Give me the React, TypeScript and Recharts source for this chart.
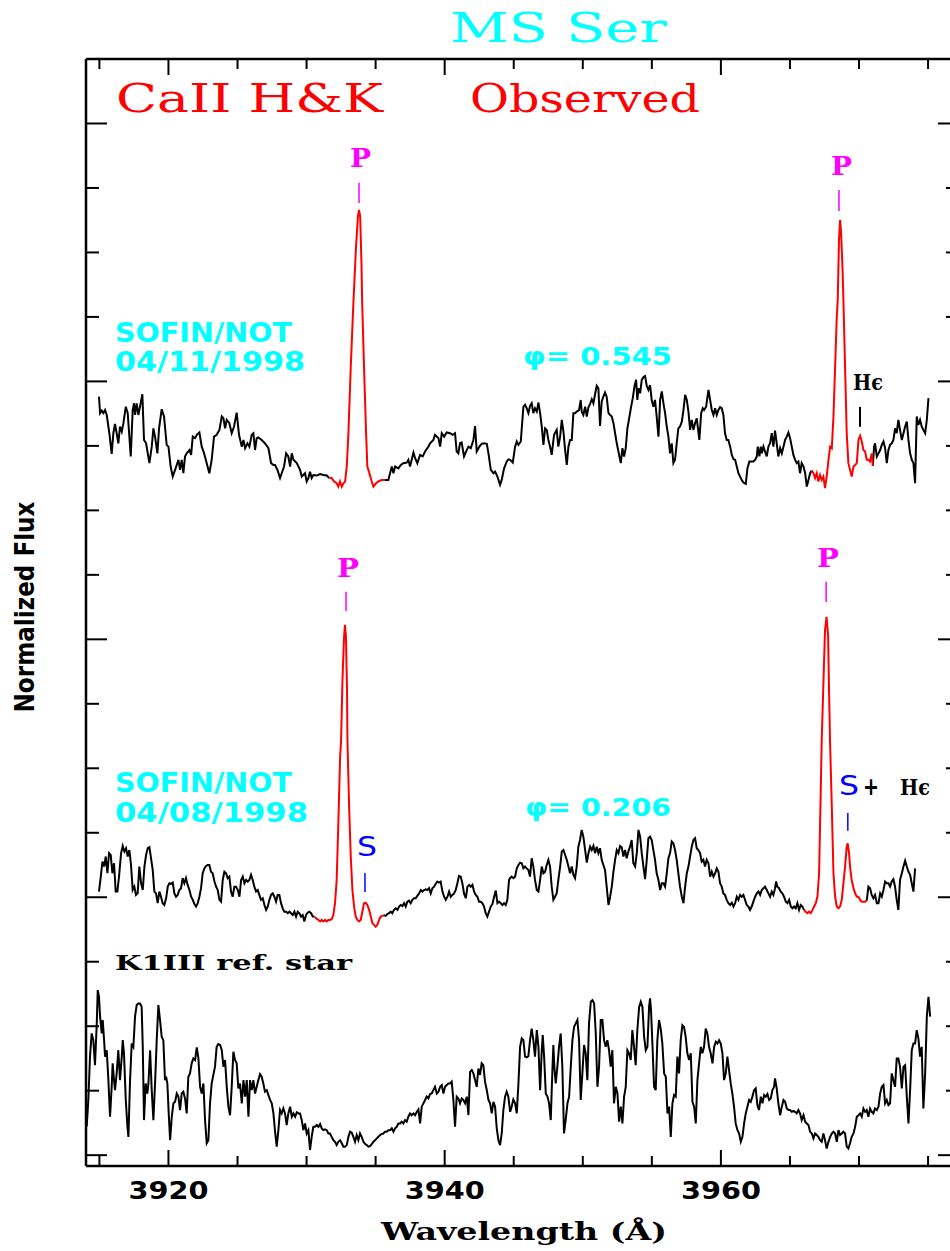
import { LineChart, Line, XAxis, YAxis, ReferenceLine } from 'recharts'

// wavelength (Å) vs normalized flux (offset per spectrum)
const novBlue1: [number, number][] = [
  [3914.97,2.941],[3915.05,2.877],[3915.17,2.887],[3915.29,2.877],[3915.41,2.889],[3915.53,2.870],[3915.72,2.799],[3915.89,2.719],[3916.01,2.799],[3916.13,2.835],[3916.25,2.799],[3916.37,2.760],[3916.49,2.825],[3916.62,2.805],[3916.74,2.838],[3916.91,2.902],[3917.05,2.877],[3917.27,2.709],[3917.41,2.889],[3917.51,2.915],[3917.58,2.870],[3917.70,2.915],[3917.82,2.870],[3917.94,2.902],[3918.11,2.950],[3918.23,2.773],[3918.38,2.760],[3918.62,2.683],[3918.79,2.747],[3918.91,2.818],[3919.03,2.786],[3919.20,2.721],[3919.32,2.818],[3919.51,2.892],[3919.68,2.864],[3919.87,2.754],[3920.00,2.747],[3920.16,2.670],[3920.31,2.631],[3920.48,2.657],[3920.60,2.676],[3920.72,2.696],[3920.84,2.657],[3920.96,2.696],[3921.08,2.644],[3921.20,2.709],[3921.32,2.721],[3921.52,2.734],[3921.64,2.715],[3921.76,2.786],[3921.93,2.780],[3922.05,2.793],[3922.24,2.802],[3922.41,2.747],[3922.58,2.721],[3922.77,2.683],[3922.96,2.644],[3923.13,2.696],[3923.30,2.786],[3923.49,2.793],[3923.69,2.812],[3923.86,2.864],[3923.98,2.857],[3924.10,2.818],[3924.22,2.851],[3924.41,2.838],[3924.58,2.799],[3924.75,2.825],[3924.94,2.879],[3925.11,2.793],[3925.31,2.747],[3925.43,2.773],[3925.55,2.741],[3925.72,2.760],[3925.86,2.747],[3926.03,2.793],[3926.15,2.799],[3926.27,2.734],[3926.39,2.780],[3926.51,2.783],[3926.75,2.773],[3926.99,2.760],[3927.24,2.741],[3927.43,2.683],[3927.60,2.676],[3927.72,2.676],[3927.89,2.657],[3928.08,2.625],[3928.20,2.644],[3928.37,2.670],[3928.52,2.721],[3928.68,2.709],[3928.81,2.670],[3928.93,2.721],[3929.05,2.696],[3929.29,2.683],[3929.41,2.670],[3929.53,2.657],[3929.65,2.631],[3929.89,2.644],[3930.01,2.612],[3930.13,2.625],[3930.25,2.650],[3930.37,2.625],[3930.49,2.637],[3930.74,2.635],[3930.98,2.641],[3931.22,2.637],[3931.46,2.635],[3931.65,2.625],
]
const novK: [number, number][] = [
  [3931.65,2.625],[3931.82,2.625],[3931.99,2.612],[3932.18,2.605],[3932.30,2.592],[3932.42,2.612],[3932.55,2.592],[3932.67,2.605],[3932.79,2.612],[3932.91,2.670],[3933.03,2.799],[3933.20,3.057],[3933.40,3.316],[3933.58,3.52],[3933.72,3.64],[3933.80,3.665],[3933.88,3.64],[3933.98,3.45],[3934.02,3.316],[3934.16,3.057],[3934.31,2.799],[3934.40,2.670],[3934.55,2.644],[3934.72,2.612],[3934.84,2.592],[3935.03,2.605],[3935.20,2.612],[3935.44,2.618],[3935.68,2.618],
]
const novBlue2: [number, number][] = [
  [3935.68,2.618],[3935.92,2.618],[3936.17,2.670],[3936.29,2.644],[3936.41,2.670],[3936.65,2.663],[3936.82,2.676],[3937.01,2.683],[3937.25,2.685],[3937.37,2.696],[3937.49,2.670],[3937.74,2.724],[3937.86,2.702],[3938.02,2.683],[3938.22,2.715],[3938.41,2.709],[3938.58,2.728],[3938.82,2.747],[3938.94,2.760],[3939.18,2.773],[3939.30,2.793],[3939.55,2.780],[3939.67,2.747],[3939.79,2.799],[3939.96,2.786],[3940.15,2.802],[3940.39,2.799],[3940.58,2.793],[3940.75,2.799],[3940.87,2.728],[3940.99,2.721],[3941.11,2.760],[3941.23,2.763],[3941.40,2.709],[3941.55,2.728],[3941.72,2.747],[3941.89,2.741],[3942.08,2.773],[3942.20,2.827],[3942.32,2.728],[3942.51,2.747],[3942.68,2.758],[3942.85,2.760],[3943.05,2.758],[3943.17,2.721],[3943.34,2.657],[3943.53,2.644],[3943.65,2.650],[3943.82,2.631],[3944.01,2.599],[3944.13,2.618],[3944.30,2.663],[3944.49,2.689],[3944.61,2.698],[3944.74,2.696],
  [3944.93,2.685],[3945.10,2.747],[3945.22,2.767],[3945.34,2.754],[3945.51,2.767],[3945.70,2.902],[3945.82,2.909],[3945.94,2.896],[3946.06,2.877],[3946.18,2.905],[3946.30,2.915],[3946.42,2.877],[3946.54,2.896],[3946.67,2.883],[3946.79,2.918],[3946.91,2.877],[3947.03,2.825],[3947.15,2.754],[3947.27,2.818],[3947.39,2.812],[3947.51,2.773],[3947.63,2.747],[3947.75,2.715],[3947.92,2.793],[3948.11,2.812],[3948.23,2.747],[3948.36,2.786],[3948.48,2.851],[3948.60,2.805],[3948.72,2.734],[3948.84,2.676],[3948.96,2.747],[3949.08,2.773],[3949.20,2.773],[3949.32,2.877],[3949.44,2.877],[3949.56,2.883],[3949.73,2.889],[3949.85,2.928],[3949.92,2.883],[3950.04,2.870],[3950.17,2.902],[3950.29,2.864],[3950.41,2.900],[3950.53,2.913],[3950.65,2.931],[3950.77,2.915],[3950.89,2.951],[3951.01,2.983],[3951.13,2.973],[3951.25,2.827],[3951.37,2.922],[3951.49,2.941],[3951.61,2.957],[3951.73,2.941],[3951.86,2.877],[3951.98,2.870],[3952.10,2.864],[3952.22,2.838],[3952.34,2.799],[3952.46,2.760],[3952.63,2.715],[3952.75,2.683],[3952.87,2.741],[3952.99,2.709],[3953.11,2.741],[3953.23,2.818],[3953.38,2.864],[3953.50,2.902],[3953.62,2.935],[3953.74,2.980],[3953.86,3.006],[3953.95,2.928],[3954.03,2.973],[3954.15,2.954],[3954.27,3.006],[3954.39,3.016],[3954.51,3.021],[3954.63,2.983],[3954.75,2.967],[3954.87,2.986],[3954.99,2.928],[3955.11,2.902],[3955.23,2.928],[3955.35,2.864],[3955.48,2.786],[3955.60,2.928],[3955.72,2.961],[3955.84,2.915],[3955.96,2.877],[3956.08,2.825],[3956.20,2.786],[3956.32,2.721],[3956.44,2.760],[3956.56,2.683],[3956.68,2.696],[3956.80,2.760],[3956.92,2.818],[3957.04,2.825],[3957.17,2.844],[3957.29,2.889],[3957.41,2.948],[3957.53,2.928],[3957.65,2.883],[3957.77,2.812],[3957.89,2.851],[3958.01,2.812],[3958.13,2.838],[3958.25,2.857],[3958.44,2.773],[3958.57,2.877],[3958.69,2.896],[3958.78,2.889],[3958.93,2.902],[3959.10,2.967],[3959.22,2.928],[3959.34,2.889],[3959.46,2.870],[3959.58,2.896],[3959.70,2.870],[3959.82,2.889],[3959.94,2.900],[3960.06,2.896],[3960.18,2.870],[3960.30,2.799],[3960.42,2.773],[3960.54,2.773],[3960.67,2.747],[3960.79,2.715],[3960.91,2.698],[3961.03,2.696],[3961.15,2.670],[3961.27,2.644],[3961.39,2.631],[3961.51,2.618],[3961.63,2.608],[3961.80,2.603],[3961.92,2.663],[3962.06,2.689],[3962.19,2.689],[3962.35,2.689],[3962.48,2.696],[3962.60,2.709],[3962.67,2.747],[3962.79,2.709],[3962.89,2.747],[3962.96,2.721],[3963.08,2.747],[3963.20,2.728],[3963.32,2.709],[3963.44,2.747],[3963.56,2.760],[3963.68,2.799],[3963.80,2.747],[3963.92,2.809],[3964.04,2.760],[3964.16,2.709],[3964.29,2.741],[3964.41,2.721],[3964.53,2.747],[3964.65,2.773],[3964.77,2.786],[3964.89,2.802],[3965.01,2.780],[3965.13,2.747],[3965.25,2.715],[3965.37,2.696],[3965.49,2.683],[3965.61,2.689],[3965.73,2.644],[3965.85,2.683],[3965.98,2.670],[3966.10,2.644],[3966.22,2.592],[3966.34,2.618],[3966.46,2.644],[3966.58,2.654],
]
const novH: [number, number][] = [
  [3966.58,2.654],[3966.70,2.644],[3966.82,2.625],[3966.94,2.644],[3967.06,2.612],[3967.18,2.637],[3967.30,2.618],[3967.42,2.631],[3967.54,2.586],[3967.66,2.631],[3967.79,2.696],[3967.91,2.747],[3968.03,2.741],[3968.15,2.864],[3968.27,3.057],[3968.39,3.251],[3968.46,3.316],[3968.55,3.549],[3968.63,3.626],[3968.70,3.580],[3968.81,3.432],[3968.87,3.316],[3968.99,3.057],[3969.11,2.799],[3969.23,2.683],[3969.35,2.657],[3969.47,2.631],[3969.60,2.670],[3969.72,2.676],[3969.84,2.683],[3969.96,2.773],[3970.08,2.789],[3970.20,2.767],[3970.32,2.734],[3970.44,2.728],[3970.56,2.696],[3970.68,2.696],[3970.80,2.689],[3970.92,2.721],[3971.00,2.672],
]
const novBlue3: [number, number][] = [
  [3971.00,2.672],[3971.09,2.747],[3971.16,2.760],[3971.29,2.709],[3971.41,2.721],[3971.53,2.734],[3971.65,2.754],[3971.77,2.767],[3971.89,2.741],[3972.01,2.683],[3972.13,2.734],[3972.25,2.754],[3972.37,2.760],[3972.49,2.773],[3972.61,2.818],[3972.73,2.799],[3972.85,2.851],[3972.97,2.812],[3973.10,2.773],[3973.22,2.799],[3973.34,2.825],[3973.46,2.844],[3973.58,2.773],[3973.70,2.721],[3973.82,2.696],[3973.94,2.683],[3974.06,2.605],[3974.18,2.864],[3974.30,2.831],[3974.42,2.851],[3974.54,2.825],[3974.66,2.812],[3974.79,2.799],[3974.91,2.851],[3975.03,2.935],
]

const augBlue1: [number, number][] = [
  [3914.97,1.022],[3915.10,1.080],[3915.22,1.138],[3915.34,1.119],[3915.46,1.158],[3915.58,1.093],[3915.70,1.171],[3915.82,1.164],[3915.94,1.093],[3916.06,1.132],[3916.18,1.022],[3916.30,1.022],[3916.42,1.080],[3916.57,1.171],[3916.69,1.199],[3916.81,1.177],[3916.93,1.190],[3917.05,1.158],[3917.17,1.183],[3917.29,1.125],[3917.41,1.028],[3917.53,1.041],[3917.65,1.009],[3917.77,1.015],[3917.89,1.119],[3918.02,1.054],[3918.14,1.028],[3918.26,1.119],[3918.38,1.164],[3918.50,1.190],[3918.62,1.194],[3918.74,1.151],[3918.86,1.106],[3918.98,1.022],[3919.10,1.015],[3919.22,0.977],[3919.34,1.022],[3919.46,1.002],[3919.58,0.977],[3919.70,0.970],[3919.83,0.996],[3919.95,1.041],[3920.07,1.054],[3920.19,1.052],[3920.31,1.057],[3920.43,1.015],[3920.55,1.002],[3920.67,1.009],[3920.79,1.028],[3920.91,1.035],[3921.03,1.074],[3921.15,1.054],[3921.27,1.074],[3921.39,1.048],[3921.52,1.028],[3921.64,1.002],[3921.76,0.990],[3921.88,0.974],[3922.00,0.964],[3922.12,0.977],[3922.24,1.002],[3922.36,1.035],[3922.48,1.093],[3922.60,1.112],[3922.72,1.121],[3922.84,1.125],[3922.96,1.125],[3923.08,1.099],[3923.20,1.093],[3923.33,1.061],[3923.45,1.041],[3923.57,1.028],[3923.69,0.990],[3923.81,0.983],[3923.93,1.067],[3924.05,1.099],[3924.17,1.093],[3924.29,1.074],[3924.41,1.080],[3924.53,1.022],[3924.65,1.002],[3924.77,1.041],[3924.89,1.041],[3925.02,1.028],[3925.14,1.002],[3925.26,1.067],[3925.38,1.080],[3925.50,1.054],[3925.62,1.067],[3925.74,1.061],[3925.86,1.067],[3925.98,1.087],[3926.10,1.067],[3926.22,1.041],[3926.34,1.022],[3926.46,1.028],[3926.58,1.009],[3926.70,0.990],[3926.83,0.996],[3926.95,0.970],[3927.07,0.951],[3927.19,0.964],[3927.31,0.990],[3927.43,1.009],[3927.55,1.015],[3927.67,1.002],[3927.79,0.983],[3927.91,1.009],[3928.03,1.009],[3928.15,0.977],[3928.27,0.957],[3928.39,0.944],[3928.52,0.944],[3928.64,0.938],[3928.76,0.944],[3928.88,0.938],[3929.00,0.931],[3929.12,0.944],[3929.24,0.925],[3929.36,0.944],[3929.48,0.938],[3929.60,0.925],[3929.72,0.931],[3929.84,0.906],[3929.96,0.931],[3930.08,0.940],[3930.20,0.944],[3930.33,0.938],[3930.45,0.925],[3930.57,0.925],
]
const augK: [number, number][] = [
  [3930.57,0.925],[3930.74,0.916],[3930.86,0.912],[3930.98,0.906],[3931.10,0.912],[3931.22,0.906],[3931.34,0.912],[3931.46,0.906],[3931.58,0.912],[3931.70,0.912],[3931.82,0.915],[3931.94,0.931],[3932.06,0.977],[3932.18,1.067],[3932.30,1.287],[3932.43,1.545],[3932.50,1.610],[3932.60,1.842],[3932.71,2.005],[3932.78,2.056],[3932.85,2.013],[3932.93,1.804],[3932.96,1.610],[3933.08,1.352],[3933.20,1.158],[3933.32,1.028],[3933.44,0.964],[3933.56,0.925],[3933.68,0.912],[3933.80,0.906],[3933.92,0.912],[3934.04,0.944],[3934.16,0.977],[3934.28,0.979],[3934.40,0.970],[3934.53,0.951],[3934.65,0.925],[3934.77,0.899],[3934.89,0.893],[3935.01,0.886],[3935.13,0.893],[3935.25,0.912],[3935.37,0.925],[3935.49,0.928],[3935.61,0.931],
]
const augBlue2: [number, number][] = [
  [3935.61,0.931],[3935.73,0.928],[3935.85,0.935],[3935.97,0.938],[3936.09,0.944],[3936.21,0.938],[3936.33,0.951],[3936.46,0.957],[3936.58,0.951],[3936.70,0.964],[3936.82,0.970],[3936.94,0.966],[3937.06,0.977],[3937.18,0.964],[3937.30,0.983],[3937.42,0.987],[3937.54,0.977],[3937.66,0.990],[3937.78,0.996],[3937.90,0.996],[3938.02,1.005],[3938.15,1.015],[3938.27,1.028],[3938.39,1.022],[3938.51,1.028],[3938.63,1.031],[3938.75,1.028],[3938.87,1.035],[3938.99,1.015],[3939.11,1.035],[3939.23,1.041],[3939.35,1.052],[3939.47,1.061],[3939.59,1.057],[3939.71,1.061],[3939.84,1.022],[3939.96,1.002],[3940.08,0.990],[3940.20,1.002],[3940.32,1.022],[3940.44,1.002],[3940.56,1.009],[3940.68,1.015],[3940.80,1.028],[3940.92,1.054],[3941.04,1.083],[3941.16,1.080],[3941.28,1.054],[3941.40,1.015],[3941.53,0.996],[3941.65,1.041],[3941.77,1.048],[3941.89,1.041],[3942.01,1.048],[3942.13,1.022],[3942.25,1.009],[3942.37,1.002],[3942.49,0.983],[3942.61,0.983],[3942.73,0.977],[3942.85,0.964],[3942.97,0.938],[3943.09,0.925],[3943.21,0.944],[3943.34,0.964],[3943.46,0.974],[3943.58,1.002],[3943.70,1.026],[3943.82,0.977],[3943.94,0.983],[3944.06,0.977],[3944.18,0.970],[3944.30,0.977],[3944.42,0.970],[3944.54,0.990],[3944.66,1.067],
  [3944.73,1.074],[3944.85,1.080],[3944.97,1.074],[3945.10,1.080],[3945.22,1.112],[3945.34,1.125],[3945.46,1.134],[3945.58,1.132],[3945.70,1.112],[3945.82,1.119],[3945.94,1.112],[3946.06,1.106],[3946.18,1.080],[3946.30,1.151],[3946.42,1.119],[3946.54,1.067],[3946.67,1.028],[3946.79,1.022],[3946.91,1.067],[3947.03,1.119],[3947.15,1.093],[3947.27,1.099],[3947.39,1.125],[3947.51,1.145],[3947.63,1.119],[3947.75,1.041],[3947.87,0.990],[3947.99,1.002],[3948.11,1.015],[3948.23,1.067],[3948.36,1.119],[3948.48,1.177],[3948.60,1.183],[3948.72,1.164],[3948.84,1.145],[3948.96,1.119],[3949.08,1.093],[3949.20,1.119],[3949.32,1.087],[3949.44,1.074],[3949.56,1.119],[3949.68,1.196],[3949.80,1.222],[3949.92,1.261],[3950.04,1.235],[3950.17,1.183],[3950.29,1.134],[3950.41,1.171],[3950.53,1.196],[3950.65,1.183],[3950.77,1.199],[3950.89,1.171],[3951.01,1.196],[3951.13,1.171],[3951.25,1.190],[3951.37,1.145],[3951.49,1.125],[3951.61,1.106],[3951.73,1.041],[3951.86,0.970],[3951.98,1.002],[3952.10,1.041],[3952.22,1.099],[3952.34,1.145],[3952.46,1.183],[3952.58,1.171],[3952.70,1.199],[3952.82,1.194],[3952.94,1.158],[3953.06,1.183],[3953.18,1.151],[3953.30,1.177],[3953.42,1.196],[3953.54,1.222],[3953.66,1.132],[3953.79,1.119],[3953.91,1.171],[3954.03,1.261],[3954.15,1.235],[3954.27,1.171],[3954.39,1.119],[3954.51,1.070],[3954.63,1.145],[3954.75,1.229],[3954.87,1.235],[3954.99,1.222],[3955.11,1.183],[3955.23,1.145],[3955.35,1.093],[3955.48,1.067],[3955.60,1.028],[3955.72,1.054],[3955.84,1.054],[3955.96,1.041],[3956.08,1.093],[3956.20,1.151],[3956.32,1.171],[3956.44,1.216],[3956.56,1.209],[3956.68,1.183],[3956.80,1.145],[3956.92,1.093],[3957.04,1.041],[3957.17,1.002],[3957.29,0.977],[3957.41,1.041],[3957.53,1.093],[3957.65,1.119],[3957.77,1.158],[3957.89,1.196],[3958.01,1.222],[3958.13,1.229],[3958.25,1.190],[3958.37,1.183],[3958.49,1.171],[3958.61,1.138],[3958.73,1.145],[3958.85,1.119],[3958.97,1.145],[3959.10,1.132],[3959.22,1.080],[3959.34,1.099],[3959.46,1.080],[3959.58,1.093],[3959.70,1.112],[3959.82,1.099],[3959.94,1.054],[3960.06,1.041],[3960.18,1.015],[3960.30,1.009],[3960.42,0.990],[3960.54,0.977],[3960.67,0.970],[3960.79,0.979],[3960.91,0.964],[3961.03,0.977],[3961.15,1.002],[3961.27,0.990],[3961.39,1.009],[3961.51,1.002],[3961.63,1.009],[3961.75,0.990],[3961.87,0.970],[3961.99,0.964],[3962.11,0.951],[3962.23,0.964],[3962.35,0.983],[3962.48,1.002],[3962.60,1.015],[3962.72,1.022],[3962.84,1.009],[3962.96,1.028],[3963.08,1.035],[3963.20,1.041],[3963.32,1.028],[3963.44,1.015],[3963.56,1.002],[3963.68,1.022],[3963.80,1.009],[3963.92,1.035],[3964.00,1.061],[3964.09,1.041],[3964.21,1.035],[3964.33,1.022],[3964.45,1.015],[3964.57,1.002],[3964.70,0.983],[3964.82,0.977],[3964.94,0.990],[3965.06,0.964],[3965.18,0.957],[3965.30,0.964],[3965.42,0.957],[3965.54,0.977],[3965.66,0.951],[3965.78,0.970],[3965.90,0.964],[3966.02,0.951],
]
const augH: [number, number][] = [
  [3966.02,0.951],[3966.14,0.944],[3966.26,0.938],[3966.38,0.944],[3966.51,0.938],[3966.63,0.951],[3966.75,0.964],[3966.87,0.977],[3966.99,1.002],[3967.11,1.093],[3967.23,1.416],[3967.30,1.610],[3967.43,1.842],[3967.54,2.036],[3967.65,2.087],[3967.76,2.017],[3967.83,1.804],[3967.90,1.610],[3968.03,1.352],[3968.15,1.093],[3968.27,1.002],[3968.39,0.964],[3968.51,0.957],[3968.63,0.964],[3968.75,0.990],[3968.87,1.054],[3968.99,1.119],[3969.11,1.196],[3969.18,1.209],[3969.28,1.171],[3969.35,1.119],[3969.47,1.067],[3969.60,1.035],[3969.72,1.015],[3969.84,1.002],[3969.96,1.002],[3970.08,0.990],[3970.20,0.983],[3970.32,0.983],[3970.44,0.983],[3970.56,0.987],
]
const augBlue3: [number, number][] = [
  [3970.56,0.987],[3970.68,1.041],[3970.80,1.035],[3970.92,1.009],[3971.04,0.996],[3971.16,1.009],[3971.29,0.977],[3971.41,0.977],[3971.53,1.015],[3971.65,1.002],[3971.77,1.028],[3971.89,1.061],[3972.01,1.054],[3972.13,1.054],[3972.25,1.041],[3972.37,1.061],[3972.49,1.070],[3972.61,1.041],[3972.73,0.990],[3972.85,0.951],[3972.97,1.067],[3973.10,1.093],[3973.22,1.119],[3973.34,1.142],[3973.46,1.119],[3973.58,1.099],[3973.70,1.087],[3973.82,1.054],[3973.94,1.022],[3974.06,1.112],
]

const refStar: [number, number][] = [
  [3914.08,0.110],[3914.20,0.214],[3914.32,0.382],[3914.44,0.472],[3914.56,0.446],[3914.68,0.349],[3914.81,0.511],[3914.88,0.640],[3914.97,0.614],[3915.05,0.537],[3915.17,0.472],[3915.24,0.524],[3915.34,0.446],[3915.41,0.382],[3915.53,0.407],[3915.65,0.291],[3915.77,0.149],[3915.89,0.265],[3915.96,0.356],[3916.06,0.291],[3916.13,0.252],[3916.25,0.317],[3916.37,0.407],[3916.49,0.291],[3916.62,0.382],[3916.69,0.446],[3916.78,0.395],[3916.91,0.214],[3917.03,0.110],[3917.10,0.071],[3917.22,0.291],[3917.34,0.433],[3917.46,0.420],[3917.58,0.537],[3917.70,0.582],[3917.82,0.588],[3917.94,0.588],[3918.06,0.575],[3918.14,0.420],[3918.23,0.136],[3918.35,0.278],[3918.47,0.239],[3918.55,0.278],[3918.67,0.407],[3918.79,0.252],[3918.91,0.136],[3919.03,0.278],[3919.15,0.446],[3919.27,0.582],[3919.39,0.524],[3919.51,0.459],[3919.63,0.446],[3919.75,0.291],[3919.83,0.304],[3919.92,0.278],[3920.02,0.162],[3920.12,0.058],[3920.24,0.149],[3920.36,0.201],[3920.48,0.207],[3920.60,0.239],[3920.72,0.227],[3920.84,0.175],[3920.96,0.239],[3921.08,0.246],[3921.20,0.220],[3921.32,0.162],[3921.44,0.304],[3921.56,0.317],[3921.68,0.356],[3921.80,0.375],[3921.93,0.369],[3922.05,0.418],[3922.17,0.375],[3922.29,0.265],[3922.41,0.239],[3922.53,0.278],[3922.65,0.136],[3922.77,0.046],[3922.89,0.058],[3923.01,0.201],[3923.13,0.278],[3923.25,0.311],[3923.37,0.343],[3923.49,0.420],[3923.61,0.431],[3923.74,0.427],[3923.86,0.407],[3923.98,0.343],[3924.10,0.369],[3924.22,0.265],[3924.34,0.188],[3924.46,0.155],[3924.58,0.265],[3924.70,0.401],[3924.82,0.369],[3924.94,0.356],[3925.06,0.259],[3925.18,0.278],[3925.31,0.201],[3925.43,0.291],[3925.55,0.227],[3925.67,0.291],[3925.79,0.149],[3925.91,0.291],[3926.03,0.252],[3926.15,0.291],[3926.27,0.239],[3926.39,0.265],[3926.51,0.291],[3926.63,0.314],[3926.75,0.304],[3926.87,0.278],[3926.99,0.246],[3927.12,0.252],[3927.24,0.233],[3927.36,0.214],[3927.48,0.201],[3927.60,0.162],[3927.72,0.091],[3927.84,0.033],[3927.96,0.097],[3928.08,0.175],[3928.20,0.162],[3928.32,0.181],[3928.44,0.162],[3928.56,0.117],[3928.68,0.162],[3928.81,0.188],[3928.93,0.149],[3929.05,0.162],[3929.17,0.149],[3929.29,0.166],[3929.41,0.162],[3929.53,0.162],[3929.65,0.136],[3929.77,0.097],[3929.89,0.123],[3930.01,0.084],[3930.13,0.097],[3930.25,0.020],[3930.37,0.071],[3930.49,0.110],[3930.62,0.110],[3930.74,0.117],[3930.86,0.110],[3930.98,0.121],[3931.10,0.104],[3931.22,0.097],[3931.34,0.100],[3931.46,0.097],[3931.58,0.084],[3931.70,0.084],[3931.82,0.071],[3931.94,0.058],[3932.06,0.052],[3932.18,0.039],[3932.30,0.052],[3932.43,0.058],[3932.55,0.046],[3932.67,0.033],[3932.79,0.033],[3932.91,0.039],[3933.03,0.071],[3933.15,0.091],[3933.27,0.087],[3933.39,0.071],[3933.51,0.052],[3933.63,0.078],[3933.75,0.058],[3933.87,0.084],[3933.99,0.071],[3934.12,0.052],[3934.24,0.043],[3934.36,0.039],[3934.48,0.033],[3934.60,0.035],[3934.72,0.043],[3934.84,0.052],[3934.96,0.058],[3935.08,0.065],[3935.20,0.071],[3935.32,0.078],[3935.44,0.082],[3935.56,0.084],[3935.68,0.091],[3935.80,0.091],[3935.92,0.097],[3936.05,0.097],[3936.17,0.104],[3936.29,0.091],[3936.41,0.104],[3936.53,0.110],[3936.65,0.123],[3936.77,0.123],[3936.89,0.130],[3937.01,0.123],[3937.13,0.136],[3937.25,0.130],[3937.37,0.149],[3937.49,0.162],[3937.61,0.155],[3937.74,0.162],[3937.86,0.155],[3937.98,0.168],[3938.10,0.177],[3938.22,0.123],[3938.34,0.188],[3938.46,0.201],[3938.58,0.214],[3938.70,0.227],[3938.82,0.220],[3938.94,0.237],[3939.06,0.239],[3939.18,0.252],[3939.30,0.265],[3939.43,0.239],[3939.55,0.246],[3939.67,0.265],[3939.79,0.272],[3939.91,0.239],[3940.03,0.265],[3940.15,0.272],[3940.27,0.278],[3940.39,0.278],[3940.51,0.285],[3940.63,0.214],[3940.75,0.110],[3940.87,0.227],[3940.99,0.220],[3941.11,0.201],[3941.23,0.220],[3941.35,0.214],[3941.48,0.201],[3941.60,0.227],[3941.72,0.155],[3941.84,0.323],[3941.96,0.330],[3942.08,0.317],[3942.20,0.291],[3942.32,0.265],[3942.44,0.336],[3942.56,0.311],[3942.68,0.356],[3942.80,0.349],[3942.92,0.285],[3943.05,0.252],[3943.17,0.214],[3943.29,0.201],[3943.41,0.162],[3943.53,0.207],[3943.65,0.188],[3943.77,0.104],[3943.89,0.058],[3944.01,0.039],[3944.13,0.084],[3944.25,0.175],[3944.37,0.227],[3944.49,0.246],[3944.61,0.227],[3944.74,0.168],
  [3944.85,0.188],[3944.97,0.216],[3945.10,0.201],[3945.22,0.162],[3945.34,0.278],[3945.46,0.420],[3945.58,0.453],[3945.70,0.446],[3945.82,0.382],[3945.94,0.379],[3946.06,0.384],[3946.18,0.446],[3946.30,0.491],[3946.42,0.446],[3946.54,0.382],[3946.67,0.485],[3946.79,0.420],[3946.91,0.252],[3947.03,0.407],[3947.10,0.466],[3947.20,0.382],[3947.32,0.239],[3947.44,0.227],[3947.56,0.201],[3947.68,0.136],[3947.80,0.330],[3947.87,0.427],[3947.94,0.343],[3948.04,0.278],[3948.16,0.343],[3948.28,0.420],[3948.40,0.472],[3948.52,0.343],[3948.64,0.084],[3948.76,0.136],[3948.89,0.201],[3949.01,0.227],[3949.13,0.343],[3949.25,0.446],[3949.37,0.498],[3949.49,0.511],[3949.61,0.524],[3949.73,0.446],[3949.85,0.214],[3949.97,0.317],[3950.09,0.427],[3950.21,0.395],[3950.33,0.291],[3950.45,0.511],[3950.58,0.595],[3950.70,0.601],[3950.82,0.588],[3950.94,0.472],[3951.06,0.265],[3951.18,0.343],[3951.30,0.524],[3951.42,0.524],[3951.54,0.446],[3951.66,0.420],[3951.78,0.446],[3951.90,0.407],[3952.02,0.343],[3952.14,0.407],[3952.26,0.201],[3952.39,0.265],[3952.51,0.239],[3952.63,0.130],[3952.75,0.188],[3952.87,0.123],[3952.99,0.227],[3953.11,0.265],[3953.23,0.407],[3953.35,0.395],[3953.47,0.369],[3953.59,0.485],[3953.71,0.420],[3953.83,0.349],[3953.95,0.485],[3954.08,0.575],[3954.20,0.595],[3954.32,0.575],[3954.44,0.459],[3954.56,0.407],[3954.68,0.420],[3954.80,0.575],[3954.87,0.608],[3954.94,0.563],[3955.06,0.407],[3955.16,0.265],[3955.28,0.252],[3955.40,0.446],[3955.52,0.524],[3955.64,0.491],[3955.76,0.433],[3955.89,0.317],[3956.01,0.304],[3956.13,0.162],[3956.25,0.188],[3956.37,0.071],[3956.49,0.201],[3956.61,0.233],[3956.73,0.227],[3956.85,0.382],[3956.97,0.317],[3957.09,0.446],[3957.21,0.504],[3957.33,0.498],[3957.45,0.459],[3957.57,0.395],[3957.70,0.369],[3957.82,0.395],[3957.94,0.207],[3958.06,0.188],[3958.18,0.123],[3958.30,0.291],[3958.42,0.356],[3958.54,0.420],[3958.66,0.395],[3958.78,0.420],[3958.90,0.491],[3959.02,0.472],[3959.14,0.420],[3959.26,0.395],[3959.39,0.356],[3959.51,0.420],[3959.63,0.440],[3959.75,0.433],[3959.87,0.446],[3959.99,0.433],[3960.11,0.395],[3960.23,0.291],[3960.35,0.317],[3960.47,0.382],[3960.59,0.330],[3960.71,0.278],[3960.83,0.239],[3960.95,0.188],[3961.07,0.123],[3961.20,0.097],[3961.32,0.084],[3961.44,0.052],[3961.56,0.071],[3961.68,0.123],[3961.80,0.162],[3961.92,0.188],[3962.04,0.214],[3962.16,0.207],[3962.28,0.227],[3962.40,0.252],[3962.52,0.259],[3962.64,0.194],[3962.76,0.175],[3962.89,0.227],[3963.01,0.201],[3963.13,0.233],[3963.25,0.227],[3963.37,0.237],[3963.49,0.214],[3963.61,0.220],[3963.73,0.252],[3963.85,0.265],[3963.92,0.298],[3964.04,0.259],[3964.16,0.201],[3964.29,0.155],[3964.41,0.188],[3964.53,0.214],[3964.65,0.207],[3964.77,0.181],[3964.89,0.175],[3965.01,0.175],[3965.13,0.168],[3965.25,0.172],[3965.37,0.168],[3965.49,0.162],[3965.61,0.175],[3965.73,0.162],[3965.85,0.136],[3965.98,0.155],[3966.10,0.130],[3966.22,0.123],[3966.34,0.117],[3966.46,0.091],[3966.58,0.084],[3966.70,0.065],[3966.82,0.084],[3966.94,0.078],[3967.06,0.071],[3967.18,0.058],[3967.30,0.052],[3967.42,0.084],[3967.54,0.058],[3967.66,0.026],[3967.79,0.052],[3967.91,0.071],[3968.03,0.084],[3968.15,0.091],[3968.27,0.084],[3968.39,0.052],[3968.51,0.097],[3968.63,0.078],[3968.75,0.084],[3968.87,0.091],[3968.99,0.084],[3969.11,0.033],[3969.23,0.026],[3969.35,0.046],[3969.47,0.071],[3969.60,0.084],[3969.72,0.110],[3969.84,0.149],[3969.96,0.155],[3970.08,0.162],[3970.20,0.149],[3970.32,0.181],[3970.44,0.168],[3970.56,0.175],[3970.68,0.149],[3970.80,0.181],[3970.92,0.168],[3971.04,0.162],[3971.16,0.181],[3971.29,0.175],[3971.41,0.188],[3971.53,0.239],[3971.65,0.265],[3971.77,0.272],[3971.89,0.201],[3972.01,0.214],[3972.13,0.194],[3972.25,0.201],[3972.37,0.317],[3972.49,0.291],[3972.61,0.265],[3972.73,0.375],[3972.85,0.375],[3972.97,0.343],[3973.10,0.259],[3973.22,0.343],[3973.34,0.349],[3973.46,0.227],[3973.58,0.123],[3973.70,0.252],[3973.82,0.407],[3973.94,0.433],[3974.06,0.433],[3974.18,0.485],[3974.30,0.453],[3974.42,0.382],[3974.54,0.420],[3974.66,0.181],[3974.79,0.317],[3974.91,0.537],[3975.03,0.614],[3975.15,0.537],
]

// line identifications: wavelength, flux range of the marker
const lineMarks = [
  { kind: 'P', w: 3933.8, from: 3.692, to: 3.77 },
  { kind: 'P', w: 3968.55, from: 3.661, to: 3.742 },
  { kind: 'He', w: 3970.07, from: 2.824, to: 2.901 },
  { kind: 'P', w: 3932.86, from: 2.11, to: 2.184 },
  { kind: 'P', w: 3967.62, from: 2.145, to: 2.223 },
  { kind: 'S', w: 3934.23, from: 1.02, to: 1.094 },
  { kind: 'S', w: 3969.19, from: 1.258, to: 1.327 },
]

const xTicks = [3915, 3920, 3925, 3930, 3935, 3940, 3945, 3950, 3955, 3960, 3965, 3970, 3975]
const yTicks = [0, 0.25, 0.5, 0.75, 1, 1.25, 1.5, 1.75, 2, 2.25, 2.5, 2.75, 3, 3.25, 3.5, 3.75, 4]

const blackSegments = [novBlue1, novBlue2, novBlue3, augBlue1, augBlue2, augBlue3, refStar]
const redSegments = [novK, novH, augK, augH]

const markColor: Record<string, string> = { P: '#ff00ff', S: '#0000ff', He: '#000' }

const PLOT = { left: 86, top: 59, right: 959, bottom: 1166 }
const AX = 1 // thickness reserved by each axis
const SERIF = '"DejaVu Serif", serif'
const SANS = '"DejaVu Sans", sans-serif'

function toRows(seg: [number, number][]) {
  return seg.map(([w, f]) => ({ w, f }))
}

function BottomTick({ x, payload }: any) {
  const major = payload.value % 20 === 0
  return (
    <g>
      <line x1={x} x2={x} y1={PLOT.bottom} y2={PLOT.bottom - (major ? 16 : 10)} stroke="#000" strokeWidth={2} />
      {major && (
        <text x={x} y={1199} textAnchor="middle" fontFamily={SANS} fontWeight="bold" fontSize={24}
          textLength={80} lengthAdjust="spacingAndGlyphs" fill="#000">
          {payload.value}
        </text>
      )}
    </g>
  )
}

function TopTick({ x, payload }: any) {
  const major = payload.value % 20 === 0
  return <line x1={x} x2={x} y1={PLOT.top} y2={PLOT.top + (major ? 16 : 10)} stroke="#000" strokeWidth={2} />
}

function LeftTick({ y, payload }: any) {
  const major = payload.value % 1 === 0
  return <line x1={PLOT.left} x2={PLOT.left + (major ? 21 : 13)} y1={y} y2={y} stroke="#000" strokeWidth={2} />
}

function RightTick({ y, payload }: any) {
  const major = payload.value % 1 === 0
  return <line x1={PLOT.right} x2={PLOT.right - (major ? 21 : 13)} y1={y} y2={y} stroke="#000" strokeWidth={2} />
}

type Lbl = { t: string; x: number; y: number; len: number; size: number; color: string; font?: string; bold?: boolean }

const labels: Lbl[] = [
  { t: 'MS Ser', x: 450, y: 42, len: 217, size: 41, color: '#00ffff', font: SERIF },
  { t: 'CaII H&K', x: 116, y: 112, len: 267, size: 40, color: '#ff0000', font: SERIF },
  { t: 'Observed', x: 470, y: 112, len: 230, size: 40, color: '#ff0000', font: SERIF },
  { t: 'P', x: 350, y: 167, len: 21, size: 26, color: '#ff00ff', bold: true },
  { t: 'P', x: 831, y: 175, len: 21, size: 26, color: '#ff00ff', bold: true },
  { t: 'SOFIN/NOT', x: 115, y: 342, len: 177, size: 26, color: '#00ffff', font: SANS, bold: true },
  { t: '04/11/1998', x: 115, y: 371, len: 190, size: 26, color: '#00ffff', font: SANS, bold: true },
  { t: 'φ=  0.545', x: 523, y: 365, len: 149, size: 25, color: '#00ffff', font: SANS, bold: true },
  { t: 'Hϵ', x: 853, y: 390, len: 30, size: 22, color: '#000', bold: true },
  { t: 'P', x: 337, y: 577, len: 22, size: 26, color: '#ff00ff', bold: true },
  { t: 'P', x: 817, y: 567, len: 22, size: 26, color: '#ff00ff', bold: true },
  { t: 'SOFIN/NOT', x: 115, y: 792, len: 177, size: 26, color: '#00ffff', font: SANS, bold: true },
  { t: '04/08/1998', x: 115, y: 822, len: 193, size: 26, color: '#00ffff', font: SANS, bold: true },
  { t: 'φ=  0.206', x: 525, y: 816, len: 146, size: 25, color: '#00ffff', font: SANS, bold: true },
  { t: 'S', x: 357, y: 856, len: 20, size: 26, color: '#0000ff', font: SANS },
  { t: 'S', x: 839, y: 795, len: 20, size: 26, color: '#0000ff', font: SANS },
  { t: '+', x: 863, y: 795, len: 16, size: 24, color: '#000', font: SANS, bold: true },
  { t: 'Hϵ', x: 900, y: 795, len: 30, size: 22, color: '#000', bold: true },
  { t: 'K1III  ref.  star', x: 115, y: 970, len: 237, size: 21, color: '#000', bold: true },
  { t: 'Wavelength  (Å)', x: 381, y: 1240, len: 286, size: 24, color: '#000', bold: true },
]

export default function App() {
  return (
    <div style={{ position: 'absolute', left: 0, top: 0, width: 950, height: 1251, overflow: 'hidden', background: '#fff' }}>
      <LineChart width={1000} height={1251}
        margin={{ top: PLOT.top - AX, right: 1000 - PLOT.right - AX, bottom: 1251 - PLOT.bottom - AX, left: PLOT.left - AX }}>
        <XAxis xAxisId="b" type="number" dataKey="w" domain={[3914.03, 3977.24]} allowDataOverflow ticks={xTicks} interval={0}
          orientation="bottom" height={AX} tickLine={false} tick={BottomTick} axisLine={{ stroke: '#000', strokeWidth: 2.5 }} />
        <XAxis xAxisId="t" type="number" dataKey="w" domain={[3914.03, 3977.24]} allowDataOverflow ticks={xTicks} interval={0}
          orientation="top" height={AX} tickLine={false} tick={TopTick} axisLine={{ stroke: '#000', strokeWidth: 2.5 }} />
        <YAxis yAxisId="l" type="number" domain={[-0.042, 4.25]} allowDataOverflow ticks={yTicks} interval={0}
          orientation="left" width={AX} tickLine={false} tick={LeftTick} axisLine={{ stroke: '#000', strokeWidth: 2.5 }} />
        <YAxis yAxisId="r" type="number" domain={[-0.042, 4.25]} allowDataOverflow ticks={yTicks} interval={0}
          orientation="right" width={AX} tickLine={false} tick={RightTick} axisLine={{ stroke: '#000', strokeWidth: 2.5 }} />
        {blackSegments.map((seg, i) => (
          <Line key={'k' + i} xAxisId="b" yAxisId="l" data={toRows(seg)} dataKey="f" type="linear"
            stroke="#000" strokeWidth={2} dot={false} activeDot={false} isAnimationActive={false} />
        ))}
        {redSegments.map((seg, i) => (
          <Line key={'r' + i} xAxisId="b" yAxisId="l" data={toRows(seg)} dataKey="f" type="linear"
            stroke="#ff0000" strokeWidth={2} dot={false} activeDot={false} isAnimationActive={false} />
        ))}
        {lineMarks.map((m, i) => (
          <ReferenceLine key={'m' + i} xAxisId="b" yAxisId="l"
            segment={[{ x: m.w, y: m.from }, { x: m.w, y: m.to }]}
            stroke={markColor[m.kind]} strokeWidth={m.kind === 'He' ? 2 : 1.5} />
        ))}
      </LineChart>
      <svg width={950} height={1251} style={{ position: 'absolute', left: 0, top: 0, pointerEvents: 'none' }}>
        {labels.map((l, i) => (
          <text key={i} x={l.x} y={l.y} fill={l.color} fontFamily={l.font || SERIF} fontWeight={l.bold ? 'bold' : 'normal'}
            fontSize={l.size} textLength={l.len} lengthAdjust="spacingAndGlyphs">
            {l.t}
          </text>
        ))}
        <text transform="translate(34,607) rotate(-90)" textAnchor="middle" fill="#000" fontFamily={SANS} fontWeight="bold"
          fontSize={27} textLength={211} lengthAdjust="spacingAndGlyphs">
          Normalized  Flux
        </text>
      </svg>
    </div>
  )
}
